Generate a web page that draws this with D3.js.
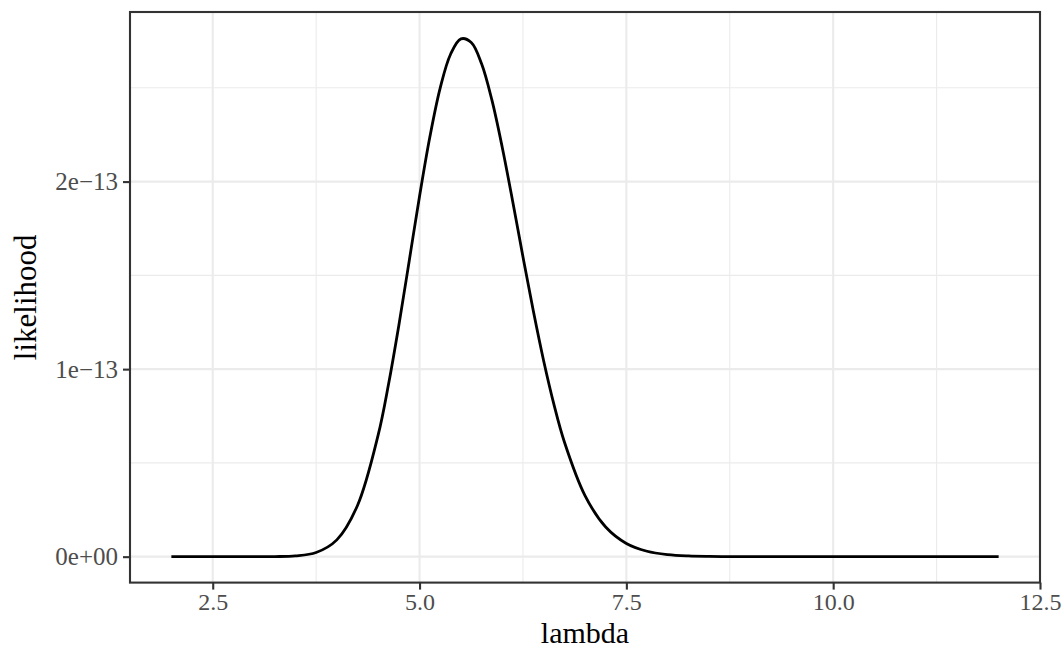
<!DOCTYPE html>
<html>
<head>
<meta charset="utf-8">
<script src="https://cdn.jsdelivr.net/npm/d3@7"></script>
<style>
  html, body { margin: 0; padding: 0; background: #fff; }
  svg { display: block; }
  text { font-family: "Liberation Serif", "Times New Roman", serif; }
</style>
</head>
<body>
<svg id="chart" width="1062" height="652"></svg>
<script>
// Data (lambda vs likelihood)
const lambda = [2.0, 2.25, 2.5, 2.75, 3.0, 3.25, 3.5, 3.75, 4.0, 4.25, 4.5, 4.625, 4.75, 4.875, 5.0, 5.125, 5.25, 5.375, 5.5, 5.625, 5.75, 5.875, 6.0, 6.125, 6.25, 6.375, 6.5, 6.625, 6.75, 7.0, 7.25, 7.5, 7.75, 8.0, 8.25, 8.5, 8.75, 9.0, 9.5, 10.0, 10.5, 11.0, 11.5, 12.0];
const likelihood = [0, 0, 0, 0, 0.00004e-13, 0.0005e-13, 0.004e-13, 0.022e-13, 0.0895e-13, 0.273e-13, 0.649e-13, 0.919e-13, 1.234e-13, 1.577e-13, 1.922e-13, 2.239e-13, 2.500e-13, 2.679e-13, 2.761e-13, 2.742e-13, 2.628e-13, 2.434e-13, 2.182e-13, 1.897e-13, 1.599e-13, 1.311e-13, 1.045e-13, 0.811e-13, 0.613e-13, 0.326e-13, 0.158e-13, 0.0704e-13, 0.0289e-13, 0.011e-13, 0.0039e-13, 0.0013e-13, 0.0004e-13, 0.0001e-13, 0, 0, 0, 0, 0, 0];

const xTicks = [2.5, 5.0, 7.5, 10.0, 12.5];
const xTickLabels = ["2.5", "5.0", "7.5", "10.0", "12.5"];
const xMinor = [3.75, 6.25, 8.75, 11.25];
const yTicks = [0, 1e-13, 2e-13];
const yTickLabels = ["0e+00", "1e\u221213", "2e\u221213"];
const yMinor = [0.5e-13, 1.5e-13, 2.5e-13];
const xTitle = "lambda";
const yTitle = "likelihood";

const svg = d3.select("#chart");
const panel = { left: 130, right: 1040, top: 12, bottom: 582.6 };

const xExt = d3.extent(lambda);
const xPad = (xExt[1] - xExt[0]) * 0.05;
const yTop = 2.766e-13; // observed peak height
const yPad = yTop * 0.05;

const x = d3.scaleLinear().domain([xExt[0] - xPad, xExt[1] + xPad]).range([panel.left, panel.right]);
const y = d3.scaleLinear().domain([-yPad, yTop + yPad]).range([panel.bottom, panel.top]);

const grid = svg.append("g");
grid.selectAll("line.xminor").data(xMinor).enter().append("line")
  .attr("x1", d => x(d)).attr("x2", d => x(d))
  .attr("y1", panel.top).attr("y2", panel.bottom)
  .attr("stroke", "#EBEBEB").attr("stroke-width", 1.1);
grid.selectAll("line.yminor").data(yMinor).enter().append("line")
  .attr("y1", d => y(d)).attr("y2", d => y(d))
  .attr("x1", panel.left).attr("x2", panel.right)
  .attr("stroke", "#EBEBEB").attr("stroke-width", 1.1);
grid.selectAll("line.xmajor").data(xTicks).enter().append("line")
  .attr("x1", d => x(d)).attr("x2", d => x(d))
  .attr("y1", panel.top).attr("y2", panel.bottom)
  .attr("stroke", "#EBEBEB").attr("stroke-width", 2.1);
grid.selectAll("line.ymajor").data(yTicks).enter().append("line")
  .attr("y1", d => y(d)).attr("y2", d => y(d))
  .attr("x1", panel.left).attr("x2", panel.right)
  .attr("stroke", "#EBEBEB").attr("stroke-width", 2.1);

const pts = lambda.map((l, i) => [l, likelihood[i]]);
svg.append("path")
  .datum(pts)
  .attr("fill", "none")
  .attr("stroke", "#000")
  .attr("stroke-width", 2.8)
  .attr("stroke-linejoin", "round")
  .attr("d", d3.line().x(d => x(d[0])).y(d => y(d[1])).curve(d3.curveCatmullRom.alpha(0.5)));

svg.append("rect")
  .attr("x", panel.left).attr("y", panel.top)
  .attr("width", panel.right - panel.left).attr("height", panel.bottom - panel.top)
  .attr("fill", "none").attr("stroke", "#333333").attr("stroke-width", 2.1);

const xAxis = d3.axisBottom(x).tickValues(xTicks).tickFormat((d, i) => xTickLabels[i]).tickSize(7).tickPadding(3);
const gx = svg.append("g").attr("transform", `translate(0,${panel.bottom})`).call(xAxis);
gx.select(".domain").remove();
gx.selectAll(".tick line").attr("stroke", "#333333").attr("stroke-width", 2.1);
gx.selectAll(".tick text").attr("fill", "#4D4D4D").style("font-size", "24px")
  .style("font-family", "'Liberation Serif', serif");

const yAxis = d3.axisLeft(y).tickValues(yTicks).tickFormat((d, i) => yTickLabels[i]).tickSize(7).tickPadding(5);
const gy = svg.append("g").attr("transform", `translate(${panel.left},0)`).call(yAxis);
gy.select(".domain").remove();
gy.selectAll(".tick line").attr("stroke", "#333333").attr("stroke-width", 2.1);
gy.selectAll(".tick text").attr("fill", "#4D4D4D").style("font-size", "25px")
  .style("font-family", "'Liberation Serif', serif");

svg.append("text")
  .attr("x", (panel.left + panel.right) / 2).attr("y", 643)
  .attr("text-anchor", "middle").attr("fill", "#000")
  .style("font-size", "30px").text(xTitle);
svg.append("text")
  .attr("transform", `translate(36,${(panel.top + panel.bottom) / 2}) rotate(-90)`)
  .attr("text-anchor", "middle").attr("fill", "#000")
  .style("font-size", "31px").text(yTitle);
</script>
</body>
</html>
